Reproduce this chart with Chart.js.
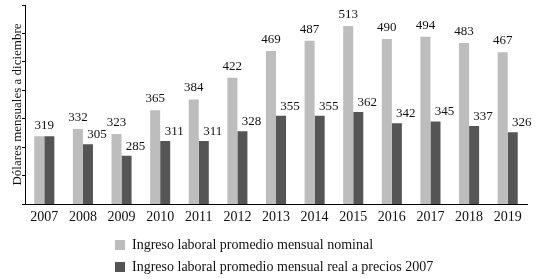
<!DOCTYPE html>
<html>
<head>
<meta charset="utf-8">
<script src="https://cdn.jsdelivr.net/npm/chart.js@4"></script>
<style>
    html, body { margin: 0; padding: 0; background: #fff; }
    #wrap { position: relative; width: 539px; height: 279px; }
    #legend { position: absolute; left: 115px; top: 236px; font: 14px "Liberation Serif", serif; color: #111; }
    .item { height: 22px; line-height: 18px; white-space: nowrap; }
    .box { display: inline-block; width: 10px; height: 10px; margin-right: 7px; vertical-align: -1px; }
</style>
</head>
<body>
<div id="wrap">
    <canvas id="ingreso" width="539" height="279"></canvas>
    <div id="legend"></div>
</div>
<script>
// Datos
const years = ['2007', '2008', '2009', '2010', '2011', '2012', '2013', '2014', '2015', '2016', '2017', '2018', '2019'];
const nominal = [319, 332, 323, 365, 384, 422, 469, 487, 513, 490, 494, 483, 467];
const real2007 = [319, 305, 285, 311, 311, 328, 355, 355, 362, 342, 345, 337, 326];
const seriesNames = ['Ingreso laboral promedio mensual nominal', 'Ingreso laboral promedio mensual real a precios 2007'];
const colors = ['#bdbdbd', '#555555'];

// Etiquetas de valores sobre las barras
const valueLabels = {
    id: 'valueLabels',
    afterDatasetsDraw(chart) {
        const ctx = chart.ctx;
        ctx.save();
        ctx.font = '13px "Liberation Serif", serif';
        ctx.fillStyle = '#111';
        ctx.textBaseline = 'bottom';
        ctx.textAlign = 'center';
        const light = chart.getDatasetMeta(0).data;
        const dark = chart.getDatasetMeta(1).data;
        years.forEach((y, i) => {
            if (nominal[i] === real2007[i]) {
                ctx.fillText(nominal[i], (light[i].x + dark[i].x) / 2, light[i].y - 4);
                return;
            }
            ctx.fillText(nominal[i], light[i].x, light[i].y - 5);
            ctx.fillText(real2007[i], dark[i].x + 9, dark[i].y - 3);
        });
        ctx.restore();
    }
};

const ctx = document.getElementById('ingreso').getContext('2d');
new Chart(ctx, {
    type: 'bar',
    data: {
        labels: years,
        datasets: [{
            label: seriesNames[0],
            data: nominal,
            backgroundColor: colors[0]
        }, {
            label: seriesNames[1],
            data: real2007,
            backgroundColor: colors[1]
        }]
    },
    options: {
        responsive: false,
        animation: false,
        layout: { padding: { top: 5, right: 12, left: 0, bottom: 0 } },
        plugins: {
            legend: { display: false },
            tooltip: { enabled: false }
        },
        datasets: {
            bar: { barPercentage: 1, categoryPercentage: 0.52 }
        },
        scales: {
            x: {
                grid: { display: false, drawTicks: false },
                border: { color: '#000', width: 1 },
                ticks: {
                    color: '#111',
                    padding: 5,
                    font: { family: 'Liberation Serif', size: 14 }
                },
                afterFit(scale) { scale.height = 75; }
            },
            y: {
                min: 200,
                max: 550,
                grid: { drawOnChartArea: false, color: '#000', tickLength: 3 },
                border: { color: '#000', width: 1 },
                ticks: { display: false, stepSize: 50 },
                title: {
                    display: true,
                    text: 'Dólares mensuales a diciembre',
                    color: '#111',
                    padding: { top: 10, bottom: 0 },
                    font: { family: 'Liberation Serif', size: 13 }
                },
                afterFit(scale) { scale.width = 25; }
            }
        }
    },
    plugins: [valueLabels]
});

// Leyenda en HTML, alineada a la izquierda
const legend = document.getElementById('legend');
seriesNames.forEach((name, i) => {
    const row = document.createElement('div');
    row.className = 'item';
    row.innerHTML = '<span class="box" style="background:' + colors[i] + '"></span>' + name;
    legend.appendChild(row);
});
</script>
</body>
</html>
